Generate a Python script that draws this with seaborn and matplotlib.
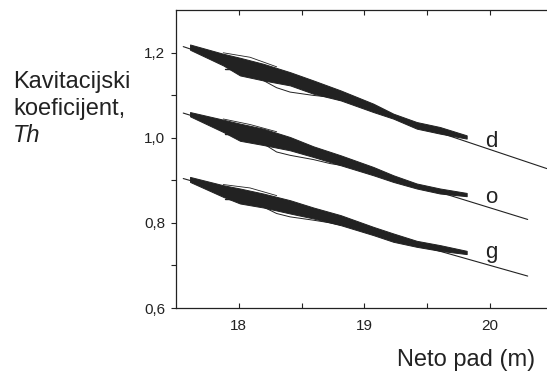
import matplotlib
matplotlib.use("Agg")
import matplotlib.pyplot as plt
import seaborn as sns

# ---- data ----
# fitted lines (start, end)
d_line_x = [17.56, 20.45]
d_line_y = [1.2140, 0.9275]
o_line_x = [17.56, 20.298]
o_line_y = [1.0579, 0.808]
g_line_x = [17.56, 20.298]
g_line_y = [0.9041, 0.675]

# dense measured band: shared x positions, upper and lower envelopes
band_x = [17.614, 17.878, 18.011, 18.196, 18.409, 18.594, 18.811, 19.071, 19.230, 19.416, 19.601, 19.813]
d_top = [1.2190, 1.1972, 1.1878, 1.1737, 1.1540, 1.1346, 1.1111, 1.0800, 1.0565, 1.0368, 1.0251, 1.0056]
d_bot = [1.2066, 1.1698, 1.1463, 1.1346, 1.1229, 1.1034, 1.0877, 1.0603, 1.0448, 1.0213, 1.0096, 0.9979]
o_top = [1.0603, 1.0424, 1.0331, 1.0213, 1.0016, 0.9798, 0.9587, 0.9313, 0.9118, 0.8924, 0.8807, 0.8703]
o_bot = [1.0502, 1.0134, 0.9928, 0.9829, 0.9704, 0.9548, 0.9353, 0.9118, 0.8961, 0.8807, 0.8689, 0.8626]
g_top = [0.9079, 0.8884, 0.8807, 0.8689, 0.8532, 0.8361, 0.8181, 0.7906, 0.7751, 0.7578, 0.7477, 0.7343]
g_bot = [0.8961, 0.8610, 0.8455, 0.8361, 0.8220, 0.8103, 0.7946, 0.7712, 0.7555, 0.7437, 0.7343, 0.7266]

# thin excursion below the band
low_x = [18.196, 18.302, 18.409, 18.594, 18.729, 18.811]
d_low = [1.1346, 1.1175, 1.1072, 1.0994, 1.0954, 1.0877]
o_low = [0.9861, 0.9665, 0.9587, 0.9487, 0.9392, 0.9353]
g_low = [0.8375, 0.8220, 0.8141, 0.8063, 0.8000, 0.7946]

# thin excursion above the band
up_x = [17.878, 18.091, 18.303]
d_up = [1.1995, 1.1890, 1.1665]
o_up = [1.0440, 1.0310, 1.0140]
g_up = [0.8900, 0.8820, 0.8640]

# short stray strokes left of the band
tail_x = [17.892, 17.955]
d_tail = [1.1604, 1.1604]
o_tail = [1.0096, 1.0096]
g_tail = [0.8572, 0.8572]

series_labels = ["d", "o", "g"]
label_x = [19.96, 19.96, 19.96]
label_y = [0.978, 0.847, 0.718]

xticks = [18, 19, 20]
xtick_labels = ["18", "19", "20"]
xminor = [18.5, 19.5]
yticks = [0.6, 0.8, 1.0, 1.2]
ytick_labels = ["0,6", "0,8", "1,0", "1,2"]
yminor = [0.7, 0.9, 1.1]

# ---- drawing ----
sns.set_theme(style="ticks")
plt.rcParams["font.family"] = ["Liberation Sans", "DejaVu Sans"]
ink = "#222222"

fig = plt.figure(figsize=(5.47, 3.72), dpi=100)
ax = fig.add_axes([175.7 / 547, 1 - 308 / 372, 377.4 / 547, 298 / 372])

series = [
    (d_line_x, d_line_y, d_top, d_bot, d_low, d_up, d_tail),
    (o_line_x, o_line_y, o_top, o_bot, o_low, o_up, o_tail),
    (g_line_x, g_line_y, g_top, g_bot, g_low, g_up, g_tail),
]

for (lx, ly, top, bot, low, up, tail) in series:
    sns.lineplot(x=lx, y=ly, ax=ax, color=ink, lw=0.8, estimator=None, sort=False)
    ax.fill_between(band_x, bot, top, color=ink, lw=0.7, edgecolor=ink, zorder=3)
    sns.lineplot(x=low_x, y=low, ax=ax, color=ink, lw=0.7, estimator=None, sort=False)
    sns.lineplot(x=up_x, y=up, ax=ax, color=ink, lw=0.6, estimator=None, sort=False)
    sns.lineplot(x=tail_x, y=tail, ax=ax, color=ink, lw=1.0, estimator=None, sort=False)

for lab, x, y in zip(series_labels, label_x, label_y):
    ax.text(x, y, lab, fontsize=16, color=ink, ha="left", va="baseline")

ax.set_xlim(17.5, 20.5)
ax.set_ylim(0.6, 1.3)
ax.set_xticks(xticks)
ax.set_xticklabels(xtick_labels)
ax.set_xticks(xminor, minor=True)
ax.set_yticks(yticks)
ax.set_yticklabels(ytick_labels)
ax.set_yticks(yminor, minor=True)
ax.set_xlabel("")
ax.set_ylabel("")

for s in ["left", "bottom", "top"]:
    ax.spines[s].set_visible(True)
    ax.spines[s].set_linewidth(0.9)
    ax.spines[s].set_color(ink)
ax.spines["right"].set_visible(False)

ax.tick_params(axis="x", which="both", direction="in", length=3.5, width=0.8,
               color=ink, top=True, labelsize=11, labelcolor=ink, pad=8)
ax.tick_params(axis="y", which="both", direction="out", length=3.5, width=0.8,
               color=ink, labelsize=11, labelcolor=ink, pad=4)

fig.text(13 / 547, 1 - 88 / 372, "Kavitacijski", fontsize=17, color=ink, va="baseline", ha="left")
fig.text(13 / 547, 1 - 115 / 372, "koeficijent,", fontsize=17, color=ink, va="baseline", ha="left")
fig.text(13 / 547, 1 - 142 / 372, "Th", fontsize=17, color=ink, va="baseline", ha="left", style="italic")
fig.text(397 / 547, 1 - 366 / 372, "Neto pad (m)", fontsize=17, color=ink, va="baseline", ha="left")

fig.savefig("out.png", dpi=100)
